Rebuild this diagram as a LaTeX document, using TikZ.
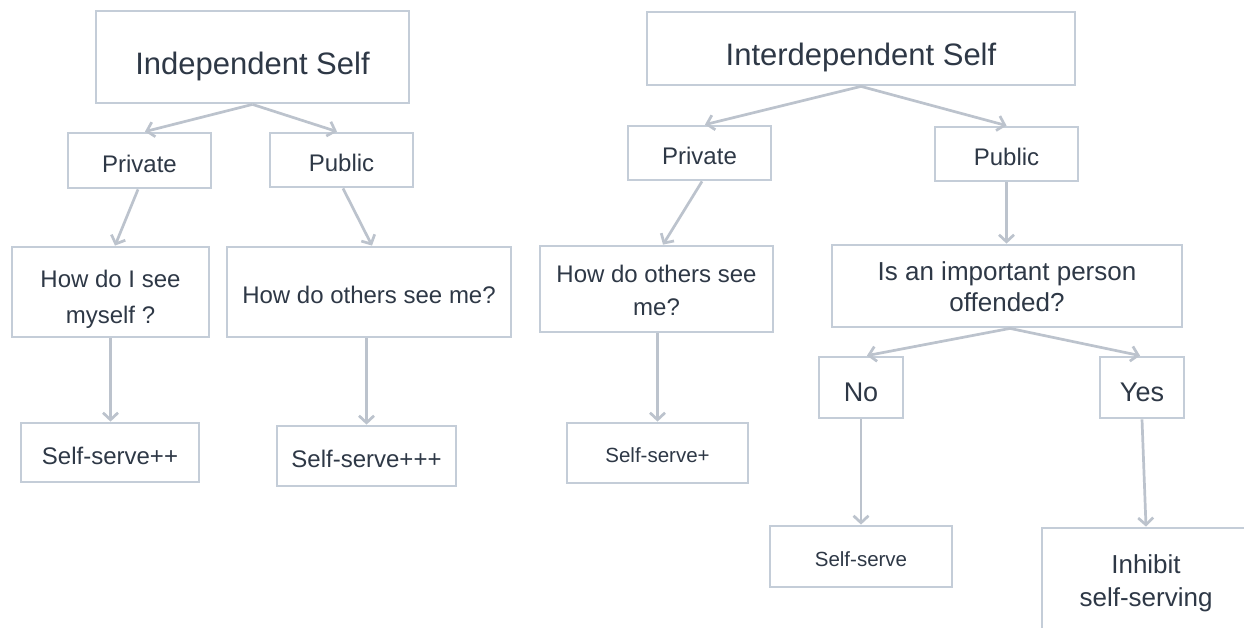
\documentclass[tikz,border=0pt]{standalone}
\usepackage{fontspec}
\setmainfont{Liberation Sans}
\usetikzlibrary{arrows.meta,calc}
\definecolor{boxc}{RGB}{196,205,216}
\definecolor{arrc}{RGB}{188,195,205}
\definecolor{txtc}{RGB}{46,56,70}
\begin{document}
\begin{tikzpicture}[x=1pt,y=-1pt,
  box/.style={draw=boxc, line width=2.8pt, rectangle, inner sep=0pt, text=txtc, align=center, fill=white},
  txt/.style={inner sep=0pt, text=txtc, align=center},
  sz31/.style={font=\fontsize{31}{37}\selectfont, text height=34.5pt, text depth=0pt},
  sz24/.style={font=\fontsize{24}{29}\selectfont, text height=23.5pt, text depth=0pt},
  sz27/.style={font=\fontsize{27}{32}\selectfont, text height=27pt, text depth=0pt},
  sz20/.style={font=\fontsize{20.5}{25}\selectfont, text height=19.5pt, text depth=0pt},
  conn/.style={draw=arrc, line width=2.7pt, -{Straight Barb[length=7pt,width=15pt]}}]
\fill[white] (0,0) rectangle (1244,628);
\useasboundingbox (0,0) rectangle (1244,628);

% left tree
\node[box,sz31,minimum width=313pt,minimum height=92pt] (IS) at (252.5,57) {Independent Self};
\node[box,sz24,minimum width=143pt,minimum height=55pt] (PrL) at (139.5,160.5) {Private};
\node[box,sz24,minimum width=143pt,minimum height=54pt] (PuL) at (341.5,160) {Public};
\node[box,font=\fontsize{24}{36}\selectfont,minimum width=197pt,minimum height=90pt] (HowI) at (110.5,292) {\rule{0pt}{31pt}How do I see\\myself ?};
\node[box,sz24,minimum width=284pt,minimum height=90pt] (HowOL) at (369,292) {How do others see me?};
\node[box,sz24,minimum width=178pt,minimum height=59pt] (SS2) at (110,452.5) {Self-serve++};
\node[box,sz24,minimum width=179pt,minimum height=60pt] (SS3) at (366.5,456) {Self-serve+++};

% right tree
\node[box,sz31,minimum width=428pt,minimum height=73pt] (IDS) at (861,48.5) {Interdependent Self};
\node[box,sz24,minimum width=143pt,minimum height=54pt] (PrR) at (699.5,153) {Private};
\node[box,sz24,minimum width=143pt,minimum height=54pt] (PuR) at (1006.5,154) {Public};
\node[box,font=\fontsize{24}{33}\selectfont,minimum width=233pt,minimum height=86pt] (HowOR) at (656.5,289) {\rule{0pt}{21pt}How do others see\\me?};
\node[box,font=\fontsize{26}{31}\selectfont,minimum width=350pt,minimum height=82pt] (Off) at (1007,286) {\rule{0pt}{21pt}Is an important person\\offended?};
\node[box,sz27,minimum width=84pt,minimum height=61pt] (No) at (861,387.5) {No};
\node[box,sz27,minimum width=84pt,minimum height=61pt] (Yes) at (1142,387.5) {Yes};
\node[box,sz20,minimum width=181pt,minimum height=60pt] (SS1) at (657.5,453) {Self-serve+};
\node[box,sz20,minimum width=182pt,minimum height=61pt] (SS0) at (861,556.5) {Self-serve};
\node[box,minimum width=240pt,minimum height=106pt] (Inh) at (1162,581) {};
\node[txt,font=\fontsize{26}{33}\selectfont] (InhT) at (1146,581) {\rule{0pt}{22.5pt}Inhibit\\self-serving};

% connectors left
\draw[conn] (IS.south) -- ($(PrL.north)+(5.5,0)$);
\draw[conn] (IS.south) -- ($(PuL.north)+(-4.5,0)$);
\draw[conn] ($(PrL.south)+(-1.5,0)$) -- ($(HowI.north)+(4.5,0)$);
\draw[conn] ($(PuL.south)+(1.5,0)$) -- ($(HowOL.north)+(3,0)$);
\draw[conn] (HowI.south) -- (HowI.south |- SS2.north);
\draw[conn] (SS3.north |- HowOL.south) -- (SS3.north);

% connectors right
\draw[conn] (IDS.south) -- ($(PrR.north)+(5.5,0)$);
\draw[conn] (IDS.south) -- (PuR.north);
\draw[conn] ($(PrR.south)+(2.5,0)$) -- ($(HowOR.north)+(6.5,0)$);
\draw[conn] (PuR.south) -- (PuR.south |- Off.north);
\draw[conn] (SS1.north |- HowOR.south) -- (SS1.north);
\draw[conn] ($(Off.south)+(3,0)$) -- ($(No.north)+(6,0)$);
\draw[conn] ($(Off.south)+(3,0)$) -- ($(Yes.north)+(-2,0)$);
\draw[conn] (No.south) -- (No.south |- SS0.north);
\draw[conn] (Yes.south) -- (InhT.north |- Inh.north);
\end{tikzpicture}
\end{document}
